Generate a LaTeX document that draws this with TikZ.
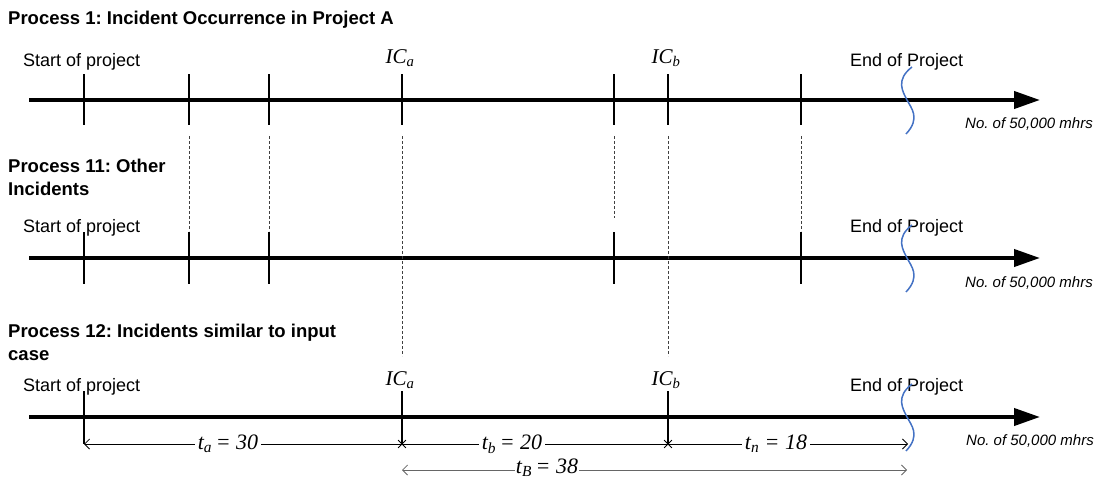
\documentclass[tikz,border=0pt]{standalone}
\usepackage{fontspec}
\setmainfont{Liberation Sans}
\newfontfamily\serifit{Liberation Serif}
\usetikzlibrary{arrows.meta, positioning, shapes.misc}
\definecolor{wavec}{RGB}{68,114,196}
\frenchspacing

\begin{document}
\begin{tikzpicture}[x=1pt, y=-1pt,
            axis/.style={line width=4pt, -{Triangle[length=26pt, width=17pt]}},
            tck/.style={line width=1.8pt},
            guide/.style={dash pattern=on 3pt off 2pt, line width=0.8pt, black!75},
            wave/.style={draw=wavec, line width=1.5pt},
            ttl/.style={font=\fontsize{18.5}{23}\selectfont\bfseries, align=left, anchor=base west, inner sep=0pt},
            lbl/.style={font=\fontsize{18}{22}\selectfont, anchor=base west, inner sep=0pt},
            ic/.style={font=\fontsize{21}{24}\selectfont\serifit\itshape, anchor=base, inner sep=0pt},
            unit/.style={font=\fontsize{15}{18}\selectfont\itshape, anchor=west, inner sep=0pt},
            dim/.style={line width=0.8pt, {Straight Barb[length=5pt, width=10pt]}-{Straight Barb[length=5pt, width=10pt]}},
            tval/.style={font=\fontsize{22}{24}\selectfont\serifit\itshape, fill=white, inner sep=3pt},
            xmark/.style={cross out, draw, line width=0.8pt, minimum size=7pt, inner sep=0pt}]
            \useasboundingbox (0,0) rectangle (1098,479);
            % titles
            \node[ttl] (t1) at (8,24)  {Process 1: Incident Occurrence in Project A};
            \node[ttl] (t2) at (8,195) {Process 11: Other\\Incidents};
            \node[ttl] (t3) at (8,360) {Process 12: Incidents similar to input\\case};
            % time axes
            \foreach \r/\y in {1/100, 2/258, 3/417} {
                \coordinate (s\r) at (29,\y);
                \coordinate (e\r) at (1040,\y);
                \draw[axis] (s\r) -- (e\r);
            }
            \node[lbl] (st1) at (23,66)  {Start of project};
            \node[lbl] (st2) at (23,232) {Start of project};
            \node[lbl] (st3) at (23,391) {Start of project};
            \node[lbl] (en1) at (850,66)  {End of Project};
            \node[lbl] (en2) at (850,232) {End of Project};
            \node[lbl] (en3) at (850,391) {End of Project};
            \node[unit] (u1) at (965,124) {No. of 50,000 mhrs};
            \node[unit] (u2) at (965,283) {No. of 50,000 mhrs};
            \node[unit] (u3) at (966,441) {No. of 50,000 mhrs};
            \node[ic] (ica1) at (400,63)  {IC\textsubscript{a}};
            \node[ic] (icb1) at (666,63)  {IC\textsubscript{b}};
            \node[ic] (ica3) at (400,385) {IC\textsubscript{a}};
            \node[ic] (icb3) at (666,385) {IC\textsubscript{b}};
            % ticks
            \foreach \x in {84,189,269,402,614,668,801} { \draw[tck] (\x,74) -- (\x,125); }
            \foreach \x in {84,189,269,614,801} { \draw[tck] (\x,232) -- (\x,284); }
            \foreach \x in {84,402,668} { \draw[tck] (\x,391) -- (\x,444); }
            % guides
            \foreach \x in {189,269,801} { \draw[guide] (\x,136) -- (\x,231); }
            \draw[guide] (614,136) -- (614,218);
            \draw[guide] (402,136) -- (402,356);
            \draw[guide] (668,136) -- (668,356);
            % end of project
            \foreach \y in {100, 258, 417} {
                \draw[wave] (912,\y-33) .. controls (895,\y-20) and (903,\y-8) .. (907,\y)
                            .. controls (911,\y+8) and (921,\y+18) .. (906,\y+34);
            }
            % durations
            \coordinate (d0) at (84,444);
            \coordinate (d1) at (908,444);
            \draw[dim] (d0) -- (d1);
            \node[xmark] (xa) at (402,444) {};
            \node[xmark] (xb) at (668,444) {};
            \node[tval] (ta) at (228,444) {t\textsubscript{a}\,= 30};
            \node[tval] (tb) at (512,444) {t\textsubscript{b}\,= 20};
            \node[tval] (tn) at (776,444) {t\textsubscript{n} = 18};
            \coordinate (g0) at (402,470);
            \coordinate (g1) at (907,470);
            \draw[dim, black!60] (g0) -- (g1);
            \node[tval, inner sep=1pt] (tB) at (547,468) {t\textsubscript{B}\,= 38};
\end{tikzpicture}
\end{document}
